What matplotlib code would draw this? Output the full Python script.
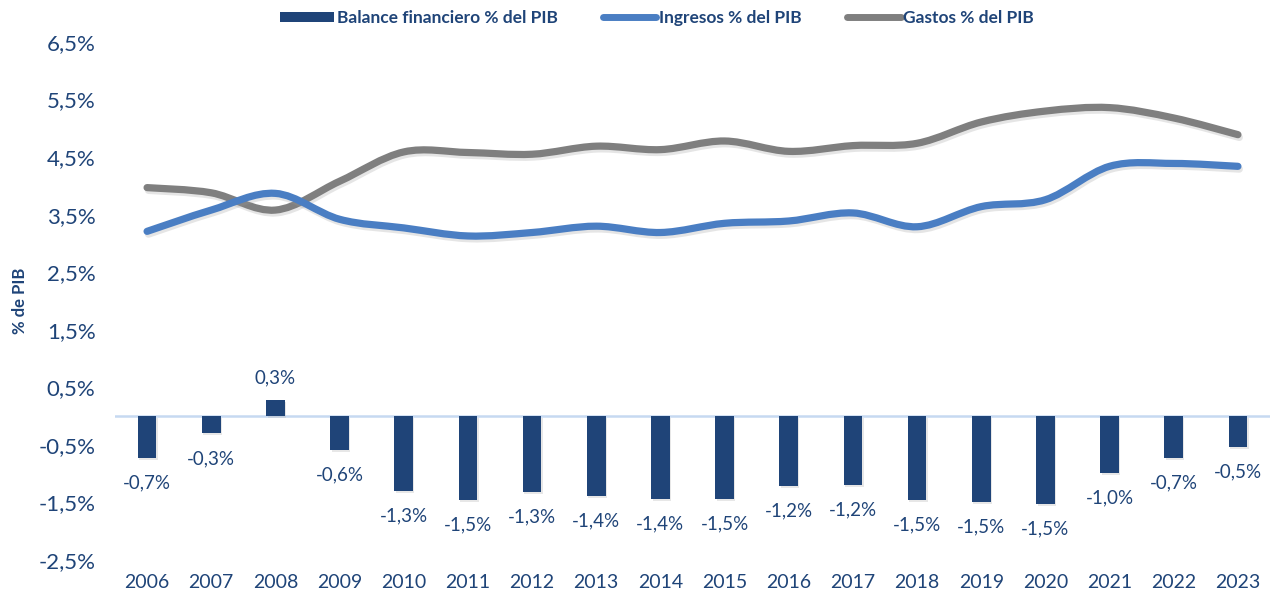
import numpy as np
import matplotlib
matplotlib.use("Agg")
import matplotlib.pyplot as plt
from matplotlib.path import Path
from matplotlib.patches import PathPatch, Patch
from matplotlib.lines import Line2D
import matplotlib.patheffects as pe

years = [2006, 2007, 2008, 2009, 2010, 2011, 2012, 2013, 2014, 2015,
         2016, 2017, 2018, 2019, 2020, 2021, 2022, 2023]
balance = [-0.73, -0.30, 0.28, -0.59, -1.30, -1.45, -1.32, -1.38, -1.44, -1.44,
           -1.22, -1.19, -1.45, -1.49, -1.53, -0.98, -0.73, -0.54]
balance_labels = ["-0,7%", "-0,3%", "0,3%", "-0,6%", "-1,3%", "-1,5%", "-1,3%", "-1,4%", "-1,4%",
                  "-1,5%", "-1,2%", "-1,2%", "-1,5%", "-1,5%", "-1,5%", "-1,0%", "-0,7%", "-0,5%"]
ingresos = [3.21, 3.58, 3.87, 3.42, 3.27, 3.13, 3.19, 3.30, 3.19, 3.35,
            3.39, 3.53, 3.29, 3.64, 3.76, 4.34, 4.39, 4.34]
gastos = [3.97, 3.88, 3.58, 4.08, 4.59, 4.58, 4.55, 4.69, 4.63, 4.78,
          4.60, 4.70, 4.74, 5.11, 5.30, 5.36, 5.18, 4.89]
yticks = [-2.5, -1.5, -0.5, 0.5, 1.5, 2.5, 3.5, 4.5, 5.5, 6.5]
ytick_labels = ["-2,5%", "-1,5%", "-0,5%", "0,5%", "1,5%", "2,5%", "3,5%", "4,5%", "5,5%", "6,5%"]

NAVY = "#1F4478"
BLUE = "#4A7EC3"
GRAY = "#7F7F7F"
ZERO = "#C6D9F1"

plt.rcParams["font.family"] = ["Lato", "DejaVu Sans"]

fig = plt.figure(figsize=(12.7, 5.95), dpi=100)
ax = fig.add_axes([115 / 1270, 35 / 595, 1155 / 1270, 518 / 595])

x = np.arange(len(years))

bars = ax.bar(x, balance, width=0.29, color=NAVY, zorder=3,
              path_effects=[pe.SimplePatchShadow(offset=(1, -1.5), shadow_rgbFace="#BBBBBB", alpha=0.35),
                            pe.Normal()])
ax.axhline(0, color=ZERO, lw=1.8, zorder=2)

for xi, v, lab in zip(x, balance, balance_labels):
    off = 16 if v > 0 else -18
    ax.annotate(lab, (xi, v), xytext=(0, off), textcoords="offset points",
                ha="center", va="center", fontsize=13.5, color=NAVY, zorder=5)


def smooth_path(xs, ys):
    P = np.column_stack([xs, ys]).astype(float)
    n = len(P)
    verts = [tuple(P[0])]
    codes = [Path.MOVETO]
    for i in range(n - 1):
        p0 = P[i - 1] if i > 0 else P[i]
        p3 = P[i + 2] if i + 2 < n else P[i + 1]
        c1 = P[i] + (P[i + 1] - p0) / 6.0
        c2 = P[i + 1] - (p3 - P[i]) / 6.0
        verts += [tuple(c1), tuple(c2), tuple(P[i + 1])]
        codes += [Path.CURVE4] * 3
    return Path(verts, codes)


shadow = [pe.SimpleLineShadow(offset=(1, -2), shadow_color="#999999", alpha=0.25), pe.Normal()]
for series, col in [(gastos, GRAY), (ingresos, BLUE)]:
    patch = PathPatch(smooth_path(x, series), facecolor="none", edgecolor=col,
                      lw=5.2, capstyle="round", joinstyle="round", zorder=4,
                      path_effects=shadow)
    ax.add_patch(patch)

ax.set_xlim(-0.5, len(years) - 0.5)
ax.set_ylim(-2.5, 6.5)
ax.set_xticks(x)
ax.set_xticklabels([str(y) for y in years])
ax.set_yticks(yticks)
ax.set_yticklabels(ytick_labels)
ax.tick_params(axis="both", length=0, colors=NAVY)
ax.tick_params(axis="x", labelsize=14, pad=10)
ax.tick_params(axis="y", labelsize=16, pad=14)
for s in ax.spines.values():
    s.set_visible(False)

fig.text(20 / 1270, 1 - 301 / 595, "% de PIB", rotation=90, ha="center", va="center",
         fontsize=12, fontweight="bold", color=NAVY)

handles = [Patch(facecolor=NAVY, edgecolor="none"),
           Line2D([], [], color=BLUE, lw=5, solid_capstyle="round"),
           Line2D([], [], color=GRAY, lw=5, solid_capstyle="round")]
labels = ["Balance financiero % del PIB", "Ingresos % del PIB", "Gastos % del PIB"]
leg = fig.legend(handles, labels, loc="center", bbox_to_anchor=(657 / 1270, 1 - 18 / 595),
                 ncol=3, frameon=False, handlelength=3.1, handleheight=0.55,
                 handletextpad=0.15, columnspacing=2.6,
                 prop={"size": 12.5, "weight": "bold"})
for t in leg.get_texts():
    t.set_color(NAVY)

fig.savefig("out.png", dpi=100)
